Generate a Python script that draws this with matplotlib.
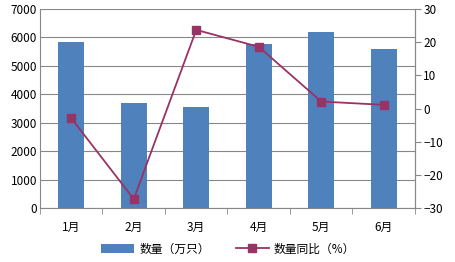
import matplotlib.pyplot as plt
import numpy as np

plt.rcParams['font.family'] = ['Noto Sans CJK SC', 'DejaVu Sans']

months = ["1月", "2月", "3月", "4月", "5月", "6月"]
qty = [5830, 3680, 3540, 5760, 6180, 5580]      # 数量（万只）
yoy = [-2.9, -27.3, 23.7, 18.6, 2.1, 1.1]       # 数量同比（%）

bar_color = "#4F81BD"
line_color = "#993366"
grid_color = "#888888"

fig = plt.figure(figsize=(4.56, 2.62), dpi=100)
ax = fig.add_axes([40 / 456, 1 - 208 / 262, 375 / 456, 199 / 262])
x = np.arange(len(months))

bars = ax.bar(x, qty, width=0.42, color=bar_color, zorder=2)
ax.set_ylim(0, 7000)
ax.set_yticks(range(0, 7001, 1000))
ax.set_xlim(-0.5, len(months) - 0.5)
ax.yaxis.grid(True, color=grid_color, linewidth=0.8, zorder=0)
ax.set_axisbelow(True)
ax.set_xticks(x)
ax.set_xticklabels(months)
ax.set_xticks(np.arange(-0.5, len(months)), minor=True)
ax.tick_params(axis="x", which="major", length=0, pad=9, labelsize=8.5)
ax.tick_params(axis="x", which="minor", length=4, color=grid_color)
ax.tick_params(axis="y", length=0, pad=2, labelsize=8.5)
ax.spines["top"].set_visible(False)
for s in ["left", "bottom", "right"]:
    ax.spines[s].set_color(grid_color)

ax2 = ax.twinx()
line, = ax2.plot(x, yoy, color=line_color, marker="s", markersize=6, linewidth=1.3, zorder=3)
ax2.set_ylim(-30, 30)
ax2.set_yticks(range(-30, 31, 10))
ax2.set_yticklabels([str(v).replace("-", "\u2212") for v in range(-30, 31, 10)])
ax2.tick_params(axis="y", length=4, color=grid_color, pad=2, labelsize=8.5)
for s in ["top", "left", "bottom"]:
    ax2.spines[s].set_visible(False)
ax2.spines["right"].set_color(grid_color)

fig.legend([bars, line], ["数量（万只）", "数量同比（%）"], loc="center",
           bbox_to_anchor=(0.5, 1 - 249 / 262), ncol=2, frameon=False,
           fontsize=8.5, handlelength=2.8, handletextpad=0.4, columnspacing=2.2)

fig.savefig("out.png", dpi=100)
